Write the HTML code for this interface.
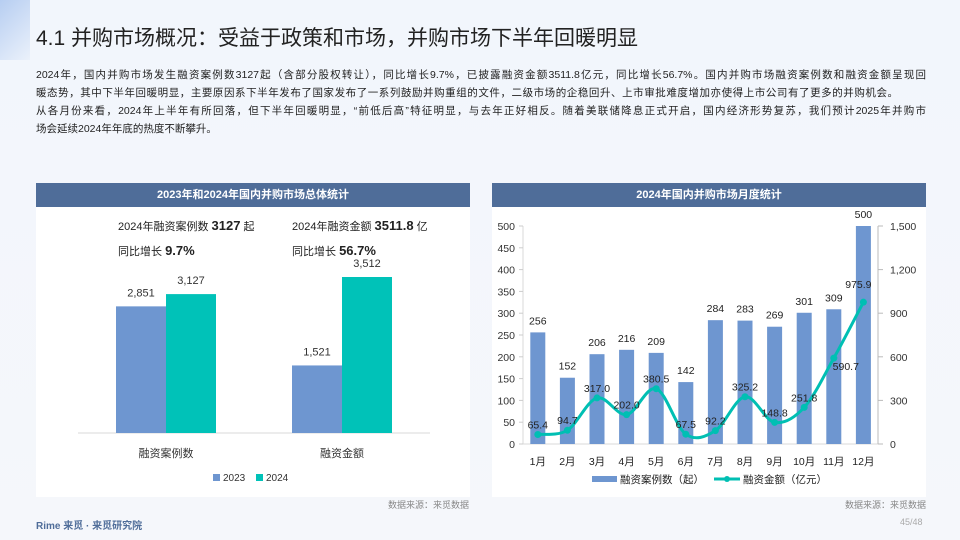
<!DOCTYPE html>
<html><head><meta charset="utf-8"><style>
body{margin:0;width:960px;height:540px;overflow:hidden;background:linear-gradient(180deg,#f2f6fc,#f5f7fb);font-family:"Liberation Sans","Noto Sans CJK SC",sans-serif;position:relative;color:#222}
.t{position:absolute;left:36px;top:22px;font-size:21px;color:#222}
.p{position:absolute;left:36px;top:66px;font-size:10.5px;line-height:18px;color:#222}
.p div{white-space:nowrap;text-align:justify;text-align-last:justify}
.card{position:absolute;top:183px;width:434px;height:314px;background:#fff}
.hd{height:24px;background:#4f6d99;color:#fff;font-size:11px;font-weight:bold;text-align:center;line-height:24px}
.src{position:absolute;top:498px;font-size:9px;color:#888}
</style></head><body>
<div style="position:absolute;left:0;top:0;width:30px;height:60px;background:linear-gradient(135deg,#8fb3ea,#e6eefa);opacity:.6"></div>
<div class="t">4.1 并购市场概况：受益于政策和市场，并购市场下半年回暖明显</div>
<div class="p">
<div style="width:890px;white-space:normal">2024年，国内并购市场发生融资案例数3127起（含部分股权转让），同比增长9.7%，已披露融资金额3511.8亿元，同比增长56.7%。国内并购市场融资案例数和融资金额呈现回</div>
<div style="width:862px;white-space:normal">暖态势，其中下半年回暖明显，主要原因系下半年发布了国家发布了一系列鼓励并购重组的文件，二级市场的企稳回升、上市审批难度增加亦使得上市公司有了更多的并购机会。</div>
<div style="width:890px;white-space:normal">从各月份来看，2024年上半年有所回落，但下半年回暖明显，“前低后高”特征明显，与去年正好相反。随着美联储降息正式开启，国内经济形势复苏，我们预计2025年并购市</div>
<div style="text-align-last:auto">场会延续2024年年底的热度不断攀升。</div>
</div>
<div class="card" style="left:36px"><div class="hd">2023年和2024年国内并购市场总体统计</div></div>
<div class="card" style="left:492px"><div class="hd">2024年国内并购市场月度统计</div></div>
<div class="src" style="left:388px">数据来源：来觅数据</div>
<div class="src" style="left:845px">数据来源：来觅数据</div>
<div style="position:absolute;left:36px;top:517px;font-size:10px;color:#4f6d99;font-weight:bold">Rime 来觅 · 来觅研究院</div>
<div style="position:absolute;left:900px;top:517px;font-size:9px;color:#aaa">45/48</div>
<svg id="s" width="960" height="540" style="position:absolute;left:0;top:0" font-family="Liberation Sans, Noto Sans CJK SC, sans-serif"></svg>
<script>
const annCats=["融资案例数","融资金额"];
const v2023=[2851,1521];
const v2024=[3127,3512];
const months=["1月","2月","3月","4月","5月","6月","7月","8月","9月","10月","11月","12月"];
const deals=[256,152,206,216,209,142,284,283,269,301,309,500];
const amounts=[65.4,94.7,317.0,202.0,380.5,67.5,92.2,325.2,148.8,251.8,590.7,975.9];
const leftTicks=[0,50,100,150,200,250,300,350,400,450,500];
const rightTicks=[0,300,600,900,1200,1500];
const S=document.getElementById('s');const NS="http://www.w3.org/2000/svg";
function mk(t,a,txt,name){const e=document.createElementNS(NS,t);for(const k in a)e.setAttribute(k,a[k]);if(txt!=null)e.textContent=txt;


S.appendChild(e);return e;}
const base=433,ky=156/3512;
mk('line',{x1:78,x2:430,y1:base,y2:base,stroke:'#d9d9d9'},null,'x-axis');
annCats.forEach((c,i)=>{const gx=116+i*176;
 const h1=v2023[i]*ky,h2=v2024[i]*ky;
 mk('rect',{x:gx,y:base-h1,width:50,height:h1,fill:'#6e96d0'},null,'bar-2023');
 mk('rect',{x:gx+50,y:base-h2,width:50,height:h2,fill:'#00c2b8'},null,'bar-2024');
 mk('text',{x:gx+25,y:base-h1-10,'text-anchor':'middle','font-size':11,fill:'#333'},v2023[i].toLocaleString('en-US'),'value-label');
 mk('text',{x:gx+75,y:base-h2-10,'text-anchor':'middle','font-size':11,fill:'#333'},v2024[i].toLocaleString('en-US'),'value-label');
 mk('text',{x:gx+50,y:457,'text-anchor':'middle','font-size':11,fill:'#333'},c,'x-label');
});
let t=mk('text',{x:118,y:230,'font-size':11,fill:'#222'},null,'stat-deals');t.innerHTML='2024年融资案例数 <tspan font-weight="bold" font-size="13">3127</tspan> 起';
t=mk('text',{x:118,y:255,'font-size':11,fill:'#222'},null,'stat-deals-growth');t.innerHTML='同比增长 <tspan font-weight="bold" font-size="13">9.7%</tspan>';
t=mk('text',{x:292,y:230,'font-size':11,fill:'#222'},null,'stat-amount');t.innerHTML='2024年融资金额 <tspan font-weight="bold" font-size="13">3511.8</tspan> 亿';
t=mk('text',{x:292,y:255,'font-size':11,fill:'#222'},null,'stat-amount-growth');t.innerHTML='同比增长 <tspan font-weight="bold" font-size="13">56.7%</tspan>';
mk('rect',{x:213,y:474,width:7,height:7,fill:'#6e96d0'},null,'legend-2023-swatch');
mk('text',{x:223,y:481,'font-size':10,fill:'#333'},'2023','legend-2023');
mk('rect',{x:256,y:474,width:7,height:7,fill:'#00c2b8'},null,'legend-2024-swatch');
mk('text',{x:266,y:481,'font-size':10,fill:'#333'},'2024','legend-2024');
const y0=444,x0=523,bw=29.6;
const yL=v=>y0-v*218/500, yR=v=>y0-v*218/1500, xc=i=>x0+bw*(i+.5);
mk('line',{x1:x0,x2:878,y1:y0,y2:y0,stroke:'#d9d9d9'},null,'x-axis');
mk('line',{x1:x0,x2:x0,y1:yL(500),y2:y0,stroke:'#d9d9d9'},null,'y-axis-left');
mk('line',{x1:878,x2:878,y1:yR(1500),y2:y0,stroke:'#bbb'},null,'y-axis-right');
leftTicks.forEach(v=>{mk('line',{x1:x0-4,x2:x0,y1:yL(v),y2:yL(v),stroke:'#ccc'},null,'tick');mk('text',{x:515,y:yL(v)+4,'text-anchor':'end','font-size':10.5,fill:'#333'},v,'y-tick-left');});
rightTicks.forEach(v=>{mk('line',{x1:878,x2:883,y1:yR(v),y2:yR(v),stroke:'#bbb'},null,'tick');mk('text',{x:890,y:yR(v)+4,'font-size':10.5,fill:'#333'},v.toLocaleString('en-US'),'y-tick-right');});
months.forEach((m,i)=>{const h=y0-yL(deals[i]);
 mk('rect',{x:xc(i)-7.5,y:yL(deals[i]),width:15,height:h,fill:'#6e96d0'},null,'bar-deals');
 mk('text',{x:xc(i),y:yL(deals[i])-8,'text-anchor':'middle','font-size':10.5,fill:'#222'},deals[i],'deal-label');
 mk('text',{x:xc(i),y:465,'text-anchor':'middle','font-size':10.5,fill:'#222'},m,'x-label');
});
const pts=amounts.map((v,i)=>[xc(i),yR(v)]);
let d='M'+pts[0][0]+','+pts[0][1];
for(let i=0;i<pts.length-1;i++){const p0=pts[Math.max(0,i-1)],p1=pts[i],p2=pts[i+1],p3=pts[Math.min(pts.length-1,i+2)];
 d+=` C${p1[0]+(p2[0]-p0[0])/6},${p1[1]+(p2[1]-p0[1])/6} ${p2[0]-(p3[0]-p1[0])/6},${p2[1]-(p3[1]-p1[1])/6} ${p2[0]},${p2[1]}`;}
mk('path',{d:d,fill:'none',stroke:'#00bfb3','stroke-width':3},null,'amount-line');
pts.forEach((p,i)=>{mk('circle',{cx:p[0],cy:p[1],r:3.5,fill:'#00bfb3'},null,'amount-point');
 mk('text',{x:p[0]+ (i==10?12:i==11?-5:0),y:p[1]+(i==11?-14:i==10?12:-6),'text-anchor':'middle','font-size':10.5,fill:'#222'},amounts[i].toFixed(1),'amount-label');});
mk('rect',{x:592,y:476,width:25,height:6,fill:'#6e96d0'},null,'legend-deals-swatch');
mk('text',{x:620,y:483,'font-size':10.5,fill:'#222'},'融资案例数（起）','legend-deals');
mk('line',{x1:714,x2:740,y1:479,y2:479,stroke:'#00bfb3','stroke-width':3},null,'legend-amount-swatch');
mk('circle',{cx:727,cy:479,r:3,fill:'#00bfb3'},null,'legend-amount-dot');
mk('text',{x:743,y:483,'font-size':10.5,fill:'#222'},'融资金额（亿元）','legend-amount');
</script>
</body></html>
